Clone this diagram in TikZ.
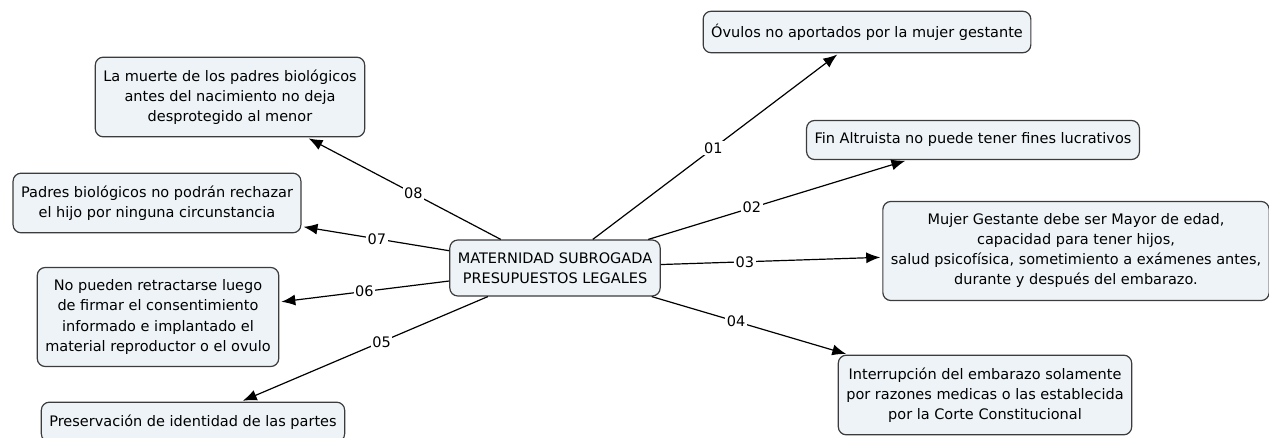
\documentclass[tikz,border=0pt]{standalone}
\usepackage{fontspec}
\setmainfont{DejaVu Sans}
\usepackage{xcolor}
\usepackage{tikz}
\usetikzlibrary{arrows.meta}
\definecolor{boxfill}{RGB}{237,243,246}
\definecolor{boxline}{RGB}{60,60,60}

\begin{document}
\begin{tikzpicture}[
    x = 1pt, y = -1pt, align = center,
    concept/.style = {
      rectangle, rounded corners = 8pt, draw = boxline, fill = boxfill,
      line width = 1.2pt, inner xsep = 8pt, inner ysep = 12.5pt,
      font = \fontsize{14.5}{20}\selectfont
    },
    link/.style = {
      line width = 1.2pt, -{Latex[length = 14pt, width = 11pt]},
      shorten > = 2pt
    },
    linklabel/.style = {
      fill = white, inner sep = 1.5pt, font = \fontsize{14.5}{16}\selectfont
    },
    ]
\useasboundingbox  (0, 0)  rectangle  (1269, 438);

\node  [concept]  (centre)  at (555, 268)  {MATERNIDAD SUBROGADA\\PRESUPUESTOS LEGALES};
\node  [concept]  (ovulos)  at (867, 32)  {Óvulos no aportados por la mujer gestante};
\node  [concept]  (altruista)  at (973, 140)  {Fin Altruista no puede tener fines lucrativos};
\node  [concept]  (gestante)  at (1076, 251)  {Mujer Gestante debe ser Mayor de edad,\\capacidad para tener hijos,\\salud psicofísica, sometimiento a exámenes antes,\\durante y después del embarazo.};
\node  [concept]  (interrupcion)  at (985, 395)  {Interrupción del embarazo solamente\\por razones medicas o las establecida\\por la Corte Constitucional};
\node  [concept]  (identidad)  at (193, 422)  {Preservación de identidad de las partes};
\node  [concept]  (retracto)  at (158, 317)  {No pueden retractarse luego\\de firmar el consentimiento\\informado e implantado el\\material reproductor o el ovulo};
\node  [concept]  (rechazo)  at (157, 203)  {Padres biológicos no podrán rechazar\\el hijo por ninguna circunstancia};
\node  [concept]  (muerte)  at (230, 97)  {La muerte de los padres biológicos\\antes del nacimiento no deja\\desprotegido al menor};

\draw  [link]  (centre)  to node  [linklabel, pos = .49]  {01}  (ovulos);
\draw  [link]  (centre)  to node  [linklabel, pos = .40]  {02}  (altruista);
\draw  [link]  (centre)  to node  [linklabel, pos = .38]  {03}  (gestante);
\draw  [link]  (centre)  to node  [linklabel, pos = .43]  {04}  (interrupcion);
\draw  [link]  (centre)  to node  [linklabel, pos = .43]  {05}  (identidad);
\draw  [link]  (centre)  to node  [linklabel, pos = .50]  {06}  (retracto);
\draw  [link]  (centre)  to node  [linklabel, pos = .49]  {07}  (rechazo);
\draw  [link]  (centre)  to node  [linklabel, pos = .45]  {08}  (muerte);

\end{tikzpicture}
\end{document}
